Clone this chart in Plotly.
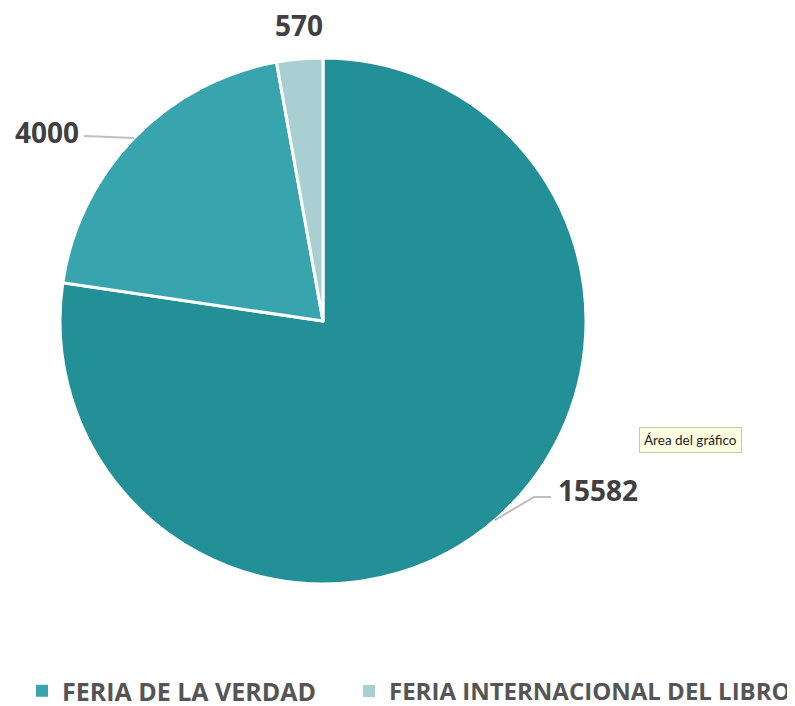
import math
import plotly.graph_objects as go

labels = ["OTRAS", "FERIA DE LA VERDAD", "FERIA INTERNACIONAL DEL LIBRO"]
values = [15582, 4000, 570]
colors = ["#238F96", "#38A5AE", "#A9CFD3"]
legend_labels = ["FERIA DE LA VERDAD", "FERIA INTERNACIONAL DEL LIBRO"]
legend_colors = ["#38A5AE", "#A9CFD3"]

W, H = 795, 706
CX, CY, R = 315, 313, 263  # pie centre / radius in px

fig = go.Figure()
fig.add_trace(go.Pie(
    labels=labels, values=values, sort=False, direction="clockwise", rotation=0,
    marker=dict(colors=colors, line=dict(color="white", width=3)),
    textinfo="none", showlegend=False, hoverinfo="skip",
    domain=dict(x=[(CX - R) / W, (CX + R) / W], y=[1 - (CY + R) / H, 1 - (CY - R) / H]),
))
legend_keys = ["legend", "legend2"]
for name, c, lk in zip(legend_labels, legend_colors, legend_keys):
    fig.add_trace(go.Scatter(x=[None], y=[None], mode="markers", name=name, legend=lk,
                             marker=dict(symbol="square", size=11, color=c)))

def px2paper(x, y):
    return x / W, 1 - y / H

# label layout: (label dx, label dy, anchor, leader-line elbow points relative to rim point)
label_layout = [
    (62, -30, "left", [(39, -23), (56, -23)]),
    (-54, -6, "right", [(-50, -2)]),
    (-1, -34, "center", []),
]
total = sum(values)
cum = 0
for v, (dx, dy, anchor, elbows) in zip(values, label_layout):
    mid = (cum + v / 2) / total * 2 * math.pi
    cum += v
    rx = CX + R * math.sin(mid)
    ry = CY - R * math.cos(mid)
    lx, ly = px2paper(rx + dx, ry + dy)
    fig.add_annotation(xref="paper", yref="paper", x=lx, y=ly, xanchor=anchor, yanchor="middle",
                       text="<b>%d</b>" % v, showarrow=False, borderpad=0,
                       font=dict(family="Open Sans", size=28, color="#404040"))
    if elbows:
        pts = [(rx, ry)] + [(rx + ex, ry + ey) for ex, ey in elbows]
        path = "M " + " L ".join("%f %f" % px2paper(x, y) for x, y in pts)
        fig.add_shape(type="path", xref="paper", yref="paper", path=path,
                      line=dict(color="#BFBFBF", width=2))

fig.add_annotation(text="Área del gráfico", xref="paper", yref="paper",
                   x=682 / W, y=1 - 432 / H, xanchor="center", yanchor="middle", showarrow=False,
                   font=dict(family="Lato", size=13.5, color="#222"),
                   bgcolor="#FFFFE1", bordercolor="#C8C8B4", borderwidth=1, borderpad=4)

legend_font = dict(family="Open Sans", size=25, color="#555555", weight="bold")
legend_font2 = dict(family="Open Sans", size=24, color="#555555", weight="bold")
fig.update_layout(
    width=W, height=H, margin=dict(l=0, r=0, t=0, b=0, autoexpand=False),
    paper_bgcolor="white", plot_bgcolor="white",
    xaxis=dict(visible=False), yaxis=dict(visible=False),
    legend=dict(orientation="h", x=14 / W, y=0.0, xanchor="left", yanchor="bottom",
                font=legend_font, itemsizing="constant", bgcolor="rgba(0,0,0,0)"),
    legend2=dict(orientation="h", x=341 / W, y=0.0, xanchor="left", yanchor="bottom",
                 font=legend_font2, itemsizing="constant", bgcolor="rgba(0,0,0,0)"),
)
fig.write_html("out.html")
